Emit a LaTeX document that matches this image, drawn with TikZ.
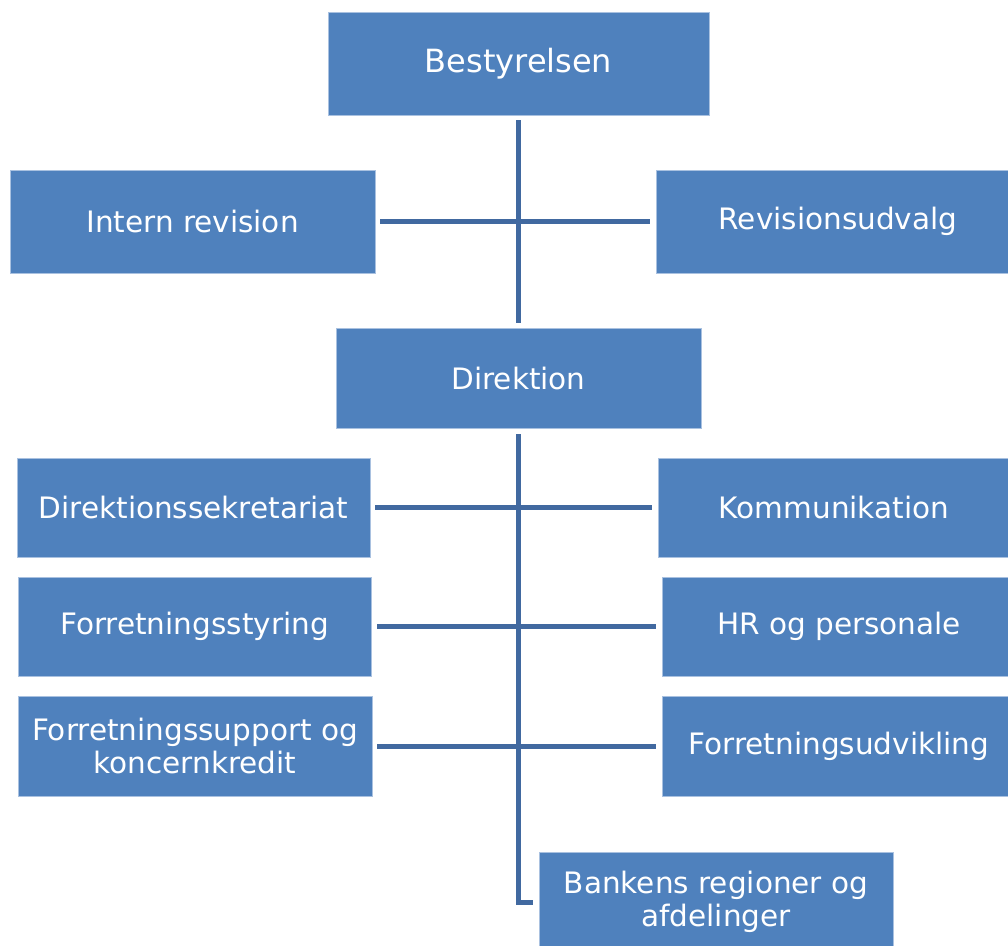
\documentclass[tikz,border=0pt]{standalone}
\usepackage{fontspec}
\setmainfont{DejaVu Sans}
\definecolor{boxblue}{HTML}{4F81BD}
\definecolor{boxedge}{HTML}{A9C1E0}
\definecolor{lineblue}{HTML}{4169A0}
\begin{document}
\begin{tikzpicture}[x=1pt,y=-1pt,
  box/.style={fill=boxblue, draw=boxedge, line width=0.8pt, text=white,
    font=\fontsize{29.5}{32.5}\selectfont, align=center, inner sep=0pt},
  conn/.style={draw=lineblue, line width=5pt}]
\useasboundingbox (0,0) rectangle (1008,945);
\clip (0,0) rectangle (1008,945);
\node[box, minimum width=381pt, minimum height=103pt, font=\fontsize{32}{36}\selectfont] (best) at (518.5,63.5) {Bestyrelsen};
\node[box, minimum width=365pt, minimum height=103pt] (intern) at (192.5,221.5) {Intern revision};
\node[box, minimum width=364pt, minimum height=103pt] (rev) at (838,221.5) {Revisionsudvalg};
\node[box, minimum width=365pt, minimum height=100pt] (dir) at (518.5,378) {Direktion};
\node[box, minimum width=353pt, minimum height=99pt] (dsek) at (193.5,507.5) {Direktionssekretariat};
\node[box, minimum width=352pt, minimum height=99pt] (komm) at (834,507.5) {Kommunikation};
\node[box, minimum width=353pt, minimum height=99pt] (fstyr) at (194.5,626.5) {Forretningsstyring};
\node[box, minimum width=354pt, minimum height=99pt] (hr) at (839,626.5) {HR og personale};
\node[box, minimum width=354pt, minimum height=100pt] (fsup) at (195,746) {Forretningssupport og\\koncernkredit};
\node[box, minimum width=354pt, minimum height=100pt] (fudv) at (839,746) {Forretningsudvikling};
\node[box, minimum width=354pt, minimum height=100pt] (bank) at (716,902) {Bankens regioner og\\afdelinger};
\draw[conn, shorten <=5pt, shorten >=5pt] (best.south) -- (dir.north);
\draw[conn, shorten <=5pt, shorten >=6pt] (intern.east) -- (rev.west);
\draw[conn, shorten <=6pt, shorten >=6pt] (dir.south) |- (bank.west);
\draw[conn, shorten <=5pt, shorten >=6pt] (dsek.east) -- (komm.west);
\draw[conn, shorten <=6pt, shorten >=6pt] (fstyr.east) -- (hr.west);
\draw[conn, shorten <=5pt, shorten >=6pt] (fsup.east) -- (fudv.west);
\end{tikzpicture}
\end{document}
